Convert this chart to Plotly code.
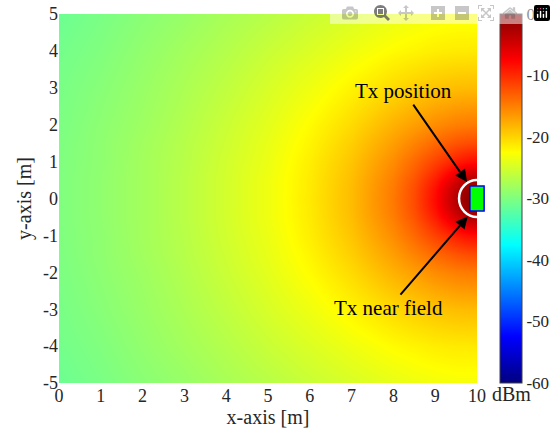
import plotly.graph_objects as go

# grid positions (m)
x_pos = [0, 1, 2, 3, 4, 5, 6, 7, 8, 8.5, 9, 9.5, 9.75, 10]
y_pos = [-5, -4, -3, -2, -1.5, -1, -0.5, -0.25, 0, 0.25, 0.5, 1, 1.5, 2, 3, 4, 5]

power_dbm = [
    [-31.1, -30.3, -29.4, -28.6, -27.6, -26.7, -25.7, -24.8, -23.9, -23.5, -23.2, -23.0, -23.0, -23.0],
    [-30.7, -29.9, -28.9, -27.9, -26.9, -25.7, -24.6, -23.4, -22.3, -21.9, -21.5, -21.3, -21.3, -21.2],
    [-30.4, -29.5, -28.5, -27.4, -26.2, -24.8, -23.4, -21.8, -20.3, -19.6, -19.0, -18.6, -18.5, -18.5],
    [-30.2, -29.2, -28.2, -27.0, -25.6, -24.1, -22.3, -20.3, -17.9, -16.8, -15.7, -14.9, -14.7, -14.6],
    [-30.1, -29.1, -28.0, -26.8, -25.4, -23.8, -21.9, -19.6, -16.8, -15.2, -13.6, -12.4, -12.0, -11.9],
    [-30.0, -29.1, -27.9, -26.7, -25.2, -23.6, -21.5, -19.0, -15.7, -13.6, -11.3, -9.1, -8.3, -8.0],
    [-30.0, -29.0, -27.9, -26.6, -25.1, -23.4, -21.3, -18.6, -14.9, -12.4, -9.1, -5.0, -3.0, -2.5],
    [-30.0, -29.0, -27.9, -26.6, -25.1, -23.4, -21.3, -18.5, -14.7, -12.0, -8.3, -3.5, -1.5, -1.0],
    [-30.0, -29.0, -27.9, -26.6, -25.1, -23.4, -21.2, -18.5, -14.6, -11.9, -8.0, -3.0, -1.0, -0.5],
    [-30.0, -29.0, -27.9, -26.6, -25.1, -23.4, -21.3, -18.5, -14.7, -12.0, -8.3, -3.5, -1.5, -1.0],
    [-30.0, -29.0, -27.9, -26.6, -25.1, -23.4, -21.3, -18.6, -14.9, -12.4, -9.1, -5.0, -3.0, -2.5],
    [-30.0, -29.1, -27.9, -26.7, -25.2, -23.6, -21.5, -19.0, -15.7, -13.6, -11.3, -9.1, -8.3, -8.0],
    [-30.1, -29.1, -28.0, -26.8, -25.4, -23.8, -21.9, -19.6, -16.8, -15.2, -13.6, -12.4, -12.0, -11.9],
    [-30.2, -29.2, -28.2, -27.0, -25.6, -24.1, -22.3, -20.3, -17.9, -16.8, -15.7, -14.9, -14.7, -14.6],
    [-30.4, -29.5, -28.5, -27.4, -26.2, -24.8, -23.4, -21.8, -20.3, -19.6, -19.0, -18.6, -18.5, -18.5],
    [-30.7, -29.9, -28.9, -27.9, -26.9, -25.7, -24.6, -23.4, -22.3, -21.9, -21.5, -21.3, -21.3, -21.2],
    [-31.1, -30.3, -29.4, -28.6, -27.6, -26.7, -25.7, -24.8, -23.9, -23.5, -23.2, -23.0, -23.0, -23.0],
]

x_ticks = [0, 1, 2, 3, 4, 5, 6, 7, 8, 9, 10]
x_tick_text = ["0", "1", "2", "3", "4", "5", "6", "7", "8", "9", "10"]
y_ticks = [-5, -4, -3, -2, -1, 0, 1, 2, 3, 4, 5]
y_tick_text = ["-5", "-4", "-3", "-2", "-1", "0", "1", "2", "3", "4", "5"]
cbar_ticks = [0, -10, -20, -30, -40, -50, -60]
cbar_tick_text = ["0", "-10", "-20", "-30", "-40", "-50", "-60"]
z_min, z_max = -60, 0

tx_x, tx_y = 10, 0
near_field_rx, near_field_ry = 0.43, 0.5

FONT = "Liberation Serif"
jet = [[0, "rgb(0,0,128)"], [0.125, "rgb(0,0,255)"], [0.375, "rgb(0,255,255)"],
       [0.625, "rgb(255,255,0)"], [0.875, "rgb(255,0,0)"], [1, "rgb(128,0,0)"]]

fig = go.Figure()
fig.add_trace(go.Heatmap(
    x=x_pos, y=y_pos, z=power_dbm, zmin=z_min, zmax=z_max, zsmooth="best",
    colorscale=jet,
    colorbar=dict(
        x=1.055, xanchor="left", y=0.5, yanchor="middle", len=1, lenmode="fraction",
        thickness=22, thicknessmode="pixels", outlinewidth=1, outlinecolor="#404040",
        tickvals=cbar_ticks, ticktext=cbar_tick_text, ticks="", ticklen=0,
        tickfont=dict(family=FONT, size=17, color="#262626"), xpad=0, ypad=0,
    ),
))

# near-field circle and Tx marker
fig.add_shape(type="circle", xref="x", yref="y",
              x0=tx_x - near_field_rx, x1=tx_x + near_field_rx,
              y0=tx_y - near_field_ry, y1=tx_y + near_field_ry,
              line=dict(color="white", width=2.5))
fig.add_shape(type="rect", xref="paper", yref="y",
              x0=tx_x / 10 - 0.017, x1=tx_x / 10 + 0.017,
              y0=tx_y - 0.34, y1=tx_y + 0.34,
              fillcolor="rgb(0,255,0)", line=dict(color="rgb(0,0,255)", width=1.5))

fig.add_annotation(x=9.76, y=0.45, ax=8.25, ay=2.91, axref="x", ayref="y",
                   text="Tx position", showarrow=True, arrowhead=2, arrowsize=1.2,
                   arrowwidth=2, arrowcolor="black",
                   font=dict(family=FONT, size=21, color="black"))
fig.add_annotation(x=9.78, y=-0.49, ax=7.89, ay=-2.97, axref="x", ayref="y",
                   text="Tx near field", showarrow=True, arrowhead=2, arrowsize=1.2,
                   arrowwidth=2, arrowcolor="black",
                   font=dict(family=FONT, size=21, color="black"))
fig.add_annotation(x=1.134, y=-0.066, xref="paper", yref="paper", text="dBm",
                   showarrow=False, font=dict(family=FONT, size=20, color="#262626"))

fig.update_layout(
    width=556, height=445,
    margin=dict(l=59, r=79, t=14, b=62, autoexpand=False),
    paper_bgcolor="white", plot_bgcolor="white",
    xaxis=dict(range=[0, 10], tickvals=x_ticks, ticktext=x_tick_text,
               showgrid=False, zeroline=False,
               ticks="", tickfont=dict(family=FONT, size=18, color="#262626"),
               title=dict(text="x-axis [m]", font=dict(family=FONT, size=20, color="#262626"), standoff=4)),
    yaxis=dict(range=[-5, 5], tickvals=y_ticks, ticktext=y_tick_text,
               showgrid=False, zeroline=False,
               ticks="", tickfont=dict(family=FONT, size=18, color="#262626"),
               title=dict(text="y-axis [m]", font=dict(family=FONT, size=20, color="#262626"), standoff=6)),
)

fig.write_html("out.html", post_script="document.body.style.margin='0';")
